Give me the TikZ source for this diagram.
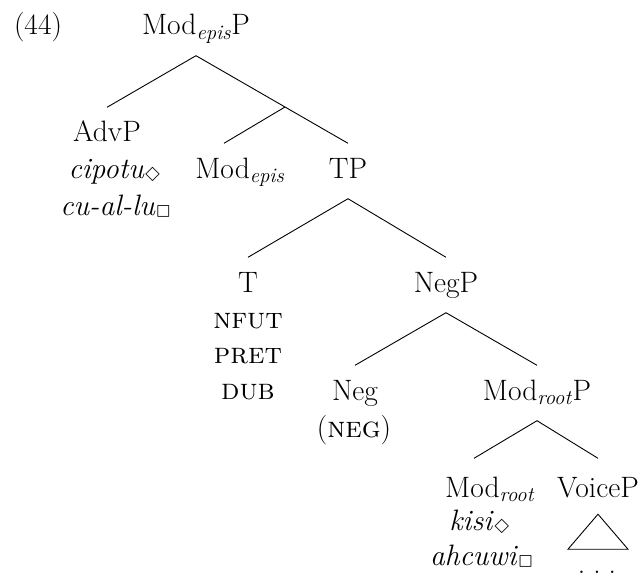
\documentclass[tikz,border=0pt]{standalone}
\usepackage{latexsym}
\newcommand{\sub}[1]{\textsubscript{\textit{#1}}}
\begin{document}
\begin{tikzpicture}[x=1pt,y=-1pt,
  every node/.style={font=\fontsize{29.5}{35}\selectfont},
  tn/.style={anchor=base, inner xsep=0pt, inner ysep=14.5pt, text height=20pt, text depth=6pt},
  tx/.style={anchor=base, inner sep=0pt},
  edge/.style={line width=0.9pt}]
\useasboundingbox (0,0) rectangle (644,580);
\node[tx] (ex) at (38,35) {(44)};
\node[tn] (top) at (196,35) {Mod\sub{epis}P};
\node[tn] (advp) at (107,142) {AdvP};
\node[tx] (advp2) at (115,178) {\textit{cipotu}$_{\Diamond}$};
\node[tx] (advp3) at (116,215) {\textit{cu-al-lu}$_{\Box}$};
\coordinate (bar) at (285,107);
\node[tn] (modepis) at (240,178) {Mod\sub{epis}};
\node[tn] (tp) at (348,178) {TP};
\node[tn] (t) at (248,292) {T};
\node[tx] (t2) at (248,328) {\textsc{nfut}};
\node[tx] (t3) at (248,363) {\textsc{pret}};
\node[tx] (t4) at (248,399) {\textsc{dub}};
\node[tn] (negp) at (446,292) {NegP};
\node[tn] (neg) at (355,400) {Neg};
\node[tx] (neg2) at (354,437) {(\textsc{neg})};
\node[tn] (modrootp) at (537,400) {Mod\sub{root}P};
\node[tn] (modroot) at (490,497) {Mod\sub{root}};
\node[tn] (voicep) at (598,497) {VoiceP};
\node[tx] (mr2) at (480,530) {\textit{kisi}$_{\Diamond}$};
\node[tx] (mr3) at (482,565) {\textit{ahcuwi}$_{\Box}$};
\node[tx] (dots) at (597,573) {.\hspace{8pt}.\hspace{8pt}.};
\draw[edge] (top.south) -- (advp.north);
\draw[edge] (top.south) -- (bar) -- (tp.north);
\draw[edge] (bar) -- ([xshift=-16pt]modepis.north);
\draw[edge] (tp.south) -- (t.north);
\draw[edge] (tp.south) -- (negp.north);
\draw[edge] (negp.south) -- (neg.north);
\draw[edge] (negp.south) -- (modrootp.north);
\draw[edge] (modrootp.south) -- ([xshift=-16pt,yshift=4pt]modroot.north);
\draw[edge] (modrootp.south) -- ([yshift=4pt]voicep.north);
\draw[edge] ([yshift=3.5pt]voicep.south) -- ++(-30,35) -- ++(60,0) -- cycle;
\end{tikzpicture}
\end{document}
